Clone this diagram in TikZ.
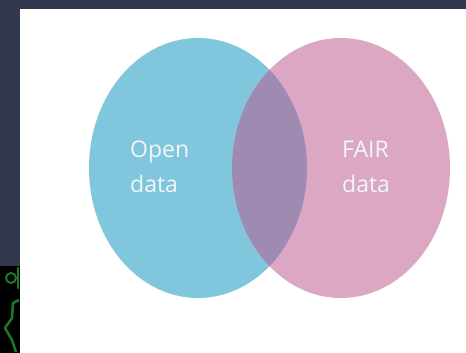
\documentclass[tikz,border=0pt]{standalone}
\usepackage{fontspec}
\setmainfont{Open Sans}
\usetikzlibrary{shapes.geometric}
\definecolor{pagebg}{RGB}{50,56,77}
\definecolor{openblue}{RGB}{128,198,220}
\definecolor{fairpink}{RGB}{219,167,195}
\definecolor{overlapfill}{RGB}{158,139,177}
\definecolor{labelwhite}{RGB}{242,246,246}
\definecolor{glitch}{RGB}{30,120,40}
\tikzset{
  setbox/.style={ellipse, minimum width=218pt, minimum height=260pt, inner sep=0pt, draw=none},
  setlabel/.style={text=labelwhite, align=left, inner sep=0pt, font=\fontsize{23}{35}\selectfont}
}

\begin{document}
\begin{tikzpicture}[x=1pt,y=-1pt]
\useasboundingbox (0,0) rectangle (466,353);
% backdrop
\fill[pagebg] (0,0) rectangle (466,353);
\fill[white] (20,9) rectangle (466,353);
\fill[black] (0,266) rectangle (20,353);
\draw[glitch, line width=2.5pt, line cap=round] (18,268) -- (18,288);
\draw[glitch, line width=2pt] (11,278) circle (5);
\draw[glitch, line width=2.5pt, line join=round] (19,300) -- (13,303) -- (12,318) -- (5,328) -- (12,340) -- (16,352);

% the two sets
\node[setbox, fill=openblue] (open) at (198,168) {};
\node[setbox, fill=fairpink] (fair) at (341,168) {};
\begin{scope}
  \clip (open.center) ellipse [x radius=109, y radius=130];
  \fill[overlapfill] (fair.center) ellipse [x radius=109, y radius=130];
\end{scope}

% labels
\node[setlabel, anchor=west] (openlbl) at (130,167) {Open\\data};
\node[setlabel, anchor=west] (fairlbl) at (342,167) {FAIR\\data};
\end{tikzpicture}
\end{document}
